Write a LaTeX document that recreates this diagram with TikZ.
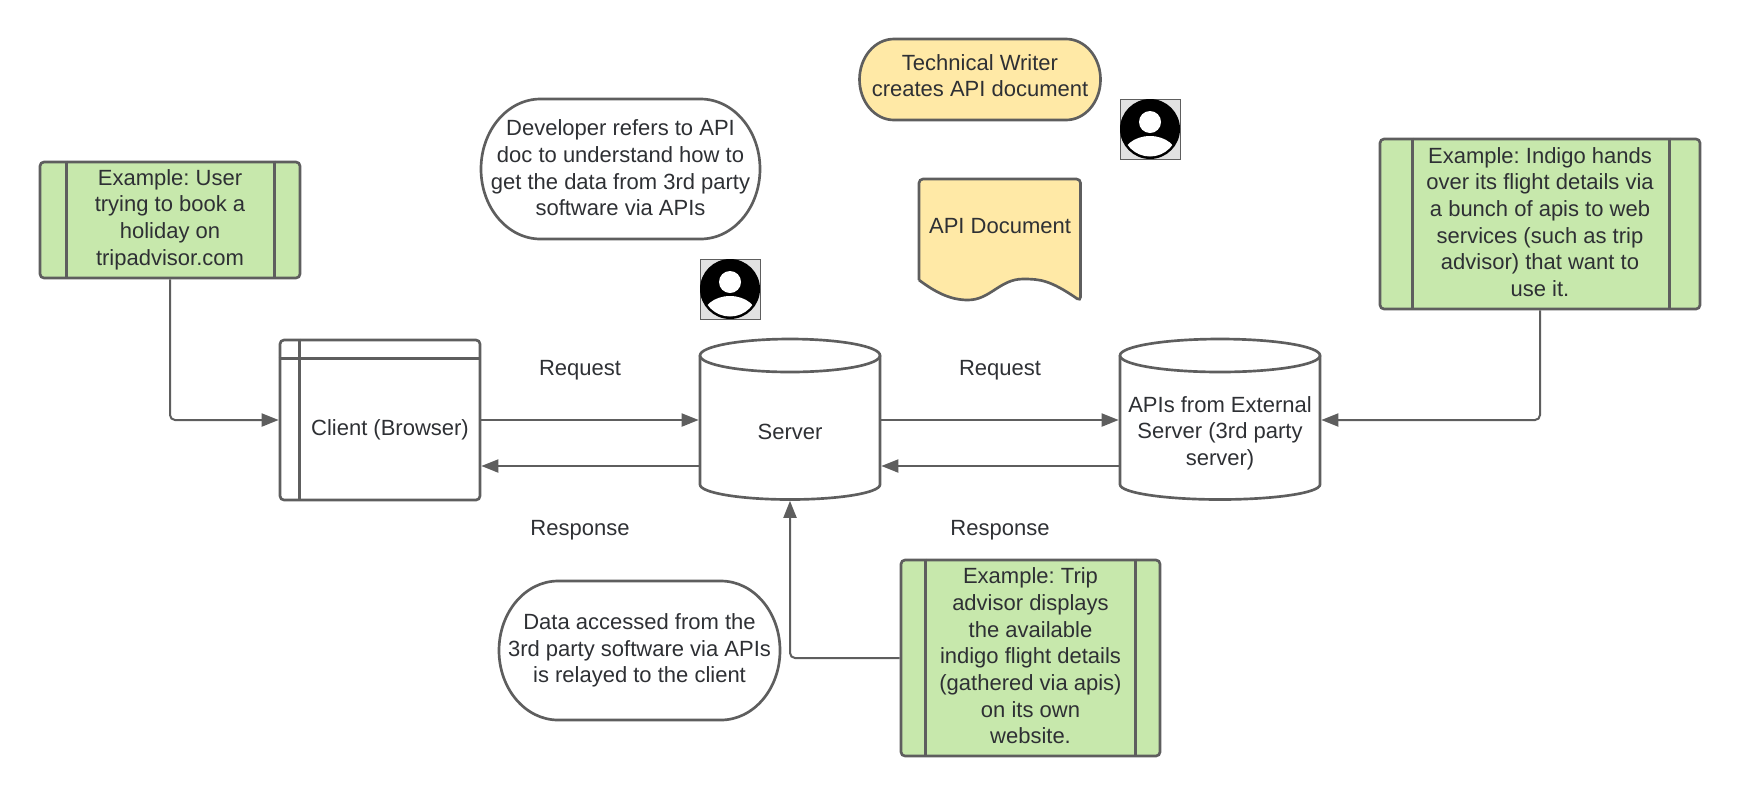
\documentclass[tikz,border=0pt]{standalone}
\usepackage{fontspec}
\setmainfont{Liberation Sans}
\usetikzlibrary{arrows.meta}

\definecolor{edge_grey}{HTML}{5E5E5E}
\definecolor{ink}{HTML}{2E3034}
\definecolor{example_green}{HTML}{C7E8AC}
\definecolor{note_yellow}{HTML}{FFE9A6}
\definecolor{avatar_grey}{HTML}{E2E2E2}

\def\px{0.75pt}

% name, centre, half width, half height, fill, text shift, text
\newcommand{\capsule}[7]{
	\draw[capsule_line, fill=#5, shift={#2}] ({-#3+0.85*#4},-#4) -- ({#3-0.85*#4},-#4)
		arc[start angle=-90, end angle=90, x radius={0.85*#4}, y radius=#4]
		-- ({-#3+0.85*#4},#4)
		arc[start angle=90, end angle=270, x radius={0.85*#4}, y radius=#4] -- cycle;
	\node[plain_text, yshift=#6*\px] (#1) at #2 {#7};
}

% name, centre, half width
\newcommand{\drum}[3]{
	\node[db_box, minimum width=2*#3*\px] (#1) at #2 {};
	\draw[capsule_line, shift={#2}] (-#3,-64) -- (-#3,65)
		arc[start angle=180, end angle=0, x radius=#3, y radius=15] -- (#3,-64);
	\draw[capsule_line, shift={#2}] (0,-64) ellipse[x radius=#3, y radius=16.5];
}

\begin{document}
\frenchspacing
\begin{tikzpicture}[x=0.75pt,y=-0.75pt,
					avatar/.pic = {
						\fill[avatar_grey] (-30,-30) rectangle (30,30);
						\draw[edge_grey, line width=0.4pt] (-30,-30) rectangle (30,30);
						\fill[black] (0,0) circle[radius=30];
						\fill[white] (0,-7) circle[radius=11];
						\begin{scope}
							\clip (0,0) circle[radius=27.5];
							\fill[white] (0,29) ellipse[x radius=28, y radius=22];
						\end{scope}
					}]

\tikzstyle{plain_text}=[align=center, inner sep=0pt, text=ink, font=\fontsize{16.5}{20}\selectfont]
\tikzstyle{capsule_line}=[draw=edge_grey, line width=2pt]
\tikzstyle{example_box}=[rectangle, draw=edge_grey, line width=2pt, rounded corners=3pt, fill=example_green]
\tikzstyle{window_box}=[rectangle, draw=edge_grey, line width=2pt, rounded corners=3pt, minimum width=200*\px, minimum height=160*\px]
\tikzstyle{db_box}=[rectangle, line width=2pt, minimum height=160*\px]
\tikzstyle{divider}=[draw=edge_grey, line width=2pt]
\tikzstyle{flow}=[draw=edge_grey, line width=1.5pt, -{Triangle[length=17*\px, width=13*\px]}]
\tikzstyle{elbow}=[flow, rounded corners=5*\px]

\useasboundingbox (0,0) rectangle (1740,797);

% boxes with the examples
\node[example_box, minimum width=260*\px, minimum height=116*\px] (user_example) at (170,220) {};
\node[plain_text] (user_text) at (170,219.5) {Example: User\\trying to book a\\holiday on\\tripadvisor.com};
\draw[divider] ([xshift=28*\px]user_example.north west) -- ([xshift=28*\px]user_example.south west);
\draw[divider] ([xshift=-27*\px]user_example.north east) -- ([xshift=-27*\px]user_example.south east);

\node[example_box, minimum width=320*\px, minimum height=170*\px] (indigo_example) at (1540,224) {};
\node[plain_text] (indigo_text) at (1540,222) {Example: Indigo hands\\over its flight details via\\a bunch of apis to web\\services (such as trip\\advisor) that want to\\use it.};
\draw[divider] ([xshift=34*\px]indigo_example.north west) -- ([xshift=34*\px]indigo_example.south west);
\draw[divider] ([xshift=-32*\px]indigo_example.north east) -- ([xshift=-32*\px]indigo_example.south east);

\node[example_box, minimum width=259*\px, minimum height=196*\px] (trip_example) at (1030.5,658) {};
\node[plain_text] (trip_text) at (1030.5,656) {Example: Trip\\advisor displays\\the available\\indigo flight details\\(gathered via apis)\\on its own\\website.};
\draw[divider] ([xshift=26*\px]trip_example.north west) -- ([xshift=26*\px]trip_example.south west);
\draw[divider] ([xshift=-26*\px]trip_example.north east) -- ([xshift=-26*\px]trip_example.south east);

% client window
\node[window_box] (client) at (380,420) {};
\draw[divider] ([xshift=21*\px]client.north west) -- ([xshift=21*\px]client.south west);
\draw[divider] ([yshift=-20*\px]client.north west) -- ([yshift=-20*\px]client.north east);
\node[plain_text] (client_label) at (390,430) {Client (Browser)};

% servers
\drum{server}{(790,419.5)}{90}
\node[plain_text] (server_label) at (790,432) {Server};
\drum{external}{(1220,419.5)}{100}
\node[plain_text] (external_label) at (1220,433) {APIs from External\\Server (3rd party\\server)};

% speech bubbles
\capsule{developer_note}{(620.5,169)}{139.5}{70}{white}{1}{Developer refers to API\\doc to understand how to\\get the data from 3rd party\\software via APIs}
\capsule{data_note}{(639.5,650.5)}{140.5}{69.5}{white}{0}{Data accessed from the\\3rd party software via APIs\\is relayed to the client}
\capsule{writer_note}{(980,79.5)}{120.5}{40.5}{note_yellow}{4}{Technical Writer\\creates API document}

% api document
\draw[capsule_line, fill=note_yellow, rounded corners=3pt] (919,280) -- (919,179) -- (1080.5,179) -- (1080.5,301) [sharp corners]
	.. controls (1050,280) and (1040,279) .. (1023,279)
	.. controls (1000,279) and (990,300) .. (968,300)
	.. controls (950,300) and (935,292) .. (919,280);
\node[plain_text] (document_label) at (1000,226) {API Document};

% people
\pic (writer) at (1150,129) {avatar};
\pic (developer) at (730,289) {avatar};

% connectors
\draw[elbow] (user_example.south) |- (client.west);
\draw[flow] (client.east) -- (client.east -| server.west);
\draw[flow] ([yshift=-46*\px]client.east -| server.west) -- ([yshift=-46*\px]client.east);
\draw[flow] (server.east |- client.east) -- (external.west |- client.east);
\draw[flow] ([yshift=-46*\px]external.west |- client.east) -- ([yshift=-46*\px]server.east |- client.east);
\draw[elbow] (indigo_example.south) |- (external.east |- client.east);
\draw[elbow] (trip_example.west) -| (server.south);

% labels on the flows
\node[plain_text] (request_left) at (580,370) {Request};
\node[plain_text] (request_right) at (1000,370) {Request};
\node[plain_text] (response_left) at (580,530) {Response};
\node[plain_text] (response_right) at (1000,530) {Response};
\end{tikzpicture}
\end{document}
